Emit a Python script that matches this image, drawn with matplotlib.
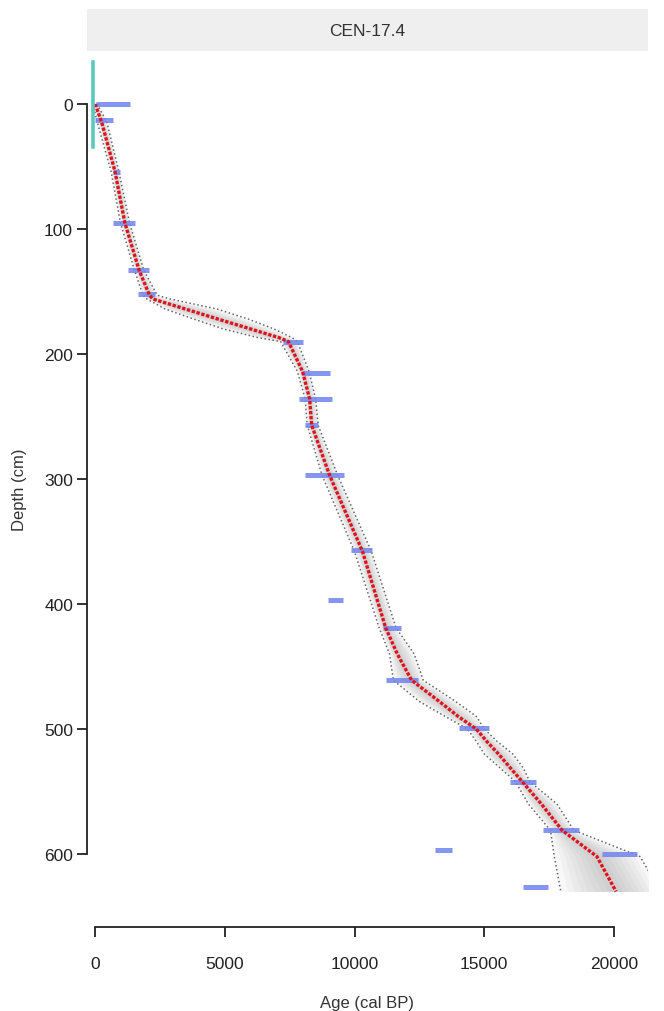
import numpy as np
import matplotlib
matplotlib.use("Agg")
import matplotlib.pyplot as plt

plt.rcParams['font.family'] = ['Liberation Sans', 'DejaVu Sans']

core_name = "CEN-17.4"

# age-depth model: depth (cm), median / 95% range ages (cal BP)
model_depth = [0, 14, 54, 95, 133, 153, 156, 164, 172, 180, 187, 190, 214, 236, 257,
               297, 358, 419, 440, 461, 478, 490, 500, 510, 520, 531, 542, 560, 581,
               602, 630]
model_median = [0, 250, 770, 1150, 1700, 2100, 2230, 3480, 4730, 6000, 7100, 7450,
                8000, 8270, 8350, 9040, 10310, 11200, 11650, 12200, 13270, 14000,
                14690, 15100, 15550, 16000, 16460, 17200, 18000, 19340, 20080]
model_min = [-80, 80, 620, 980, 1520, 1850, 2000, 2700, 3800, 4950, 6300, 7150,
             7800, 8100, 8180, 8750, 10000, 10950, 11350, 11500, 12500, 13500,
             14350, 14700, 15000, 15600, 16200, 16700, 17550, 17700, 17950]
model_max = [80, 450, 920, 1330, 1880, 2400, 2900, 4700, 5900, 6900, 7600, 7800,
             8250, 8500, 8600, 9350, 10650, 11600, 12300, 12650, 13900, 14700,
             15000, 15500, 16100, 16500, 16750, 17800, 18450, 21000, 21800]

# calibrated dates: depth and age range
date_depth = [0, 13, 54, 95, 133, 152, 190, 215, 236, 257, 297, 357, 397, 419, 461,
              499, 542, 581, 597, 600, 626]
date_lo = [50, 0, 700, 700, 1270, 1650, 7230, 7960, 7880, 8110, 8110, 9880, 8980,
           11080, 11200, 14040, 16000, 17270, 13120, 19540, 16500]
date_hi = [1350, 700, 950, 1550, 2080, 2300, 8000, 9040, 9150, 8580, 9610, 10690,
           9550, 11800, 12460, 15190, 17000, 18650, 13770, 20880, 17460]

# surface age marker
surface_age = -70
surface_depth = [-34, 34]

W, H = 664, 1012
fig = plt.figure(figsize=(W / 100, H / 100), dpi=100)

left, right, top, bottom = 87, 648, 52, 928
ax = fig.add_axes([left / W, 1 - bottom / H, (right - left) / W, (bottom - top) / H])

d = np.array(model_depth, dtype=float)
med = np.array(model_median, dtype=float)
lo = np.array(model_min, dtype=float)
hi = np.array(model_max, dtype=float)

# grey uncertainty shading, darker towards the median
for f in np.linspace(1.0, 0.15, 8):
    ax.fill_betweenx(d, med + f * (lo - med), med + f * (hi - med),
                     color='#8a8a8a', alpha=0.06, lw=0)

ax.plot(lo, d, color='#666666', ls=':', lw=1.1)
ax.plot(hi, d, color='#666666', ls=':', lw=1.1)

ax.hlines(date_depth, date_lo, date_hi, color='#6f84ee', lw=3.6, alpha=0.85)

ax.plot(med, d, color='#e0121b', ls=(0, (1.0, 0.5)), lw=2.4)

ax.plot([surface_age, surface_age], surface_depth, color='#5cc9c0', lw=2.6)

ax.set_xlim((left - 95) / 0.02595, (right - 95) / 0.02595)
ax.set_ylim((bottom - 105) / 1.25, (top - 105) / 1.25)

for s in ['top', 'right']:
    ax.spines[s].set_visible(False)
ax.spines['left'].set_bounds(0, 600)
ax.spines['bottom'].set_bounds(0, 20000)
for s in ['left', 'bottom']:
    ax.spines[s].set_linewidth(1.3)
    ax.spines[s].set_color('#222222')

ax.set_xticks([0, 5000, 10000, 15000, 20000])
ax.set_yticks([0, 100, 200, 300, 400, 500, 600])
ax.tick_params(axis='both', length=7, width=1.3, color='#222222',
               labelsize=12.5, labelcolor='#222222')
ax.tick_params(axis='x', pad=14)
ax.tick_params(axis='y', pad=3)
ax.set_xlabel('Age (cal BP)', fontsize=12, color='#333333', labelpad=17)
ax.set_ylabel('Depth (cm)', fontsize=12, color='#333333', labelpad=12)

# facet strip
strip = fig.add_axes([left / W, 1 - 52 / H, (right - left) / W, 42 / H])
strip.set_facecolor('#efefef')
strip.set_xticks([])
strip.set_yticks([])
for s in strip.spines.values():
    s.set_visible(False)
strip.text(0.5, 0.5, core_name, ha='center', va='center', fontsize=12.5,
           color='#333333', transform=strip.transAxes)

fig.savefig('out.png', dpi=100)
